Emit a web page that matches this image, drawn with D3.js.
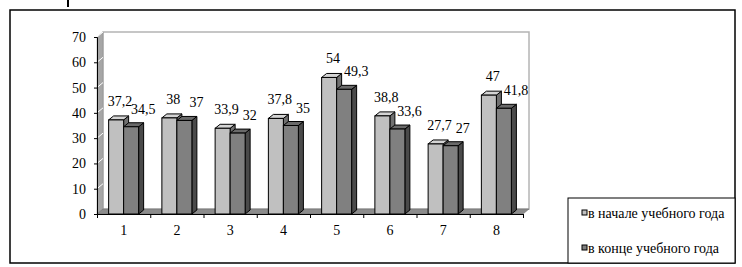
<!DOCTYPE html>
<html>
<head>
<meta charset="utf-8">
<script src="https://cdn.jsdelivr.net/npm/d3@7"></script>
<style>
  body { margin: 0; background: #fff; }
</style>
</head>
<body>
<script>
let categories = ["1", "2", "3", "4", "5", "6", "7", "8"];
let seriesNames = ["в начале учебного года", "в конце учебного года"];
let startValues = [37.2, 38, 33.9, 37.8, 54, 38.8, 27.7, 47];
let endValues = [34.5, 37, 32, 35, 49.3, 33.6, 27, 41.8];
let yTicks = [0, 10, 20, 30, 40, 50, 60, 70];

let w = 742;
let h = 267;
let serif = "'Liberation Serif'";

// colours: front, top, side
let fills = [
  { front: "#c0c0c0", top: "#d4d4d4", side: "#707070", mark: "#c0c0c0" },
  { front: "#808080", top: "#6a6a6a", side: "#4a4a4a", mark: "#808080" },
];

let svg = d3.select("body").append("svg").attr("width", w).attr("height", h);

// outer frame + stray mark at top
svg.append("rect").attr("x", 10).attr("y", 10).attr("width", 725).attr("height", 253)
  .attr("fill", "none").attr("stroke", "#000").attr("stroke-width", 1.5);
svg.append("rect").attr("x", 67).attr("y", 0).attr("width", 2).attr("height", 7).attr("fill", "#000");

let left = 97, right = 523;
let dx = 6, dy = -5;   // wall depth
let bx = 5, by = -4;   // bar depth

let yScale = d3.scaleLinear().domain([0, 70]).range([214, 37]);
let xScale = d3.scaleBand().domain(categories).range([left, right])
  .paddingInner(0.4366).paddingOuter(0.2183);
let sScale = d3.scaleBand().domain([0, 1]).range([0, xScale.bandwidth()]);
let edgeScale = d3.scaleLinear().domain([0, categories.length]).range([left, right]);

let y0 = yScale(0), yTop = yScale(70);

// back wall
svg.append("rect").attr("x", left + dx).attr("y", yTop + dy)
  .attr("width", right - left).attr("height", y0 - yTop)
  .attr("fill", "#fff").attr("stroke", "#b4b4b4").attr("stroke-width", 1.5);

// side wall
svg.append("polygon")
  .attr("points", [[left, y0], [left, yTop], [left + dx, yTop + dy], [left + dx, y0 + dy]].join(" "))
  .attr("fill", "#a6a6a6").attr("stroke", "#888").attr("stroke-width", 0.5);
svg.selectAll(".wallgrid").data(yTicks.slice(1)).enter().append("line")
  .attr("x1", left).attr("y1", (d) => yScale(d))
  .attr("x2", left + dx).attr("y2", (d) => yScale(d) + dy)
  .attr("stroke", "#fff").attr("stroke-width", 1);

// floor
svg.append("polygon")
  .attr("points", [[left, y0], [right, y0], [right + dx, y0 + dy], [left + dx, y0 + dy]].join(" "))
  .attr("fill", "#8c8c8c").attr("stroke", "#666").attr("stroke-width", 0.5);

// bars
let series = [startValues, endValues];
let barW = sScale.bandwidth();
series.forEach((vals, si) => {
  let g = svg.append("g");
  let c = fills[si];
  let bars = g.selectAll("g").data(vals).enter().append("g");
  let bxPos = (d, i) => xScale(categories[i]) + sScale(si);
  bars.append("polygon")
    .attr("points", (d, i) => {
      let x = bxPos(d, i), y = yScale(d);
      return [[x + barW, y], [x + barW + bx, y + by], [x + barW + bx, y0 + by], [x + barW, y0]].join(" ");
    })
    .attr("fill", c.side).attr("stroke", "#000").attr("stroke-width", 1).attr("stroke-linejoin", "round");
  bars.append("polygon")
    .attr("points", (d, i) => {
      let x = bxPos(d, i), y = yScale(d);
      return [[x, y], [x + bx, y + by], [x + barW + bx, y + by], [x + barW, y]].join(" ");
    })
    .attr("fill", c.top).attr("stroke", "#000").attr("stroke-width", 1).attr("stroke-linejoin", "round");
  bars.append("rect")
    .attr("x", (d, i) => bxPos(d, i)).attr("y", (d) => yScale(d))
    .attr("width", barW).attr("height", (d) => y0 - yScale(d))
    .attr("fill", c.front).attr("stroke", "#000").attr("stroke-width", 1);
});

// data labels
let fmt = (v) => String(v).replace(".", ",");
series.forEach((vals, si) => {
  svg.append("g").selectAll("text").data(vals).enter().append("text")
    .attr("x", (d, i) => xScale(categories[i]) + sScale(si) + barW / 2 + (si === 0 ? 4 : 12))
    .attr("y", (d) => yScale(d) - (si === 0 ? 14 : 13))
    .attr("text-anchor", "middle")
    .style("font-family", serif)
    .style("font-size", "14px")
    .text((d) => fmt(d));
});

// axes
let yAxis = d3.axisLeft(yScale).tickValues(yTicks).tickSize(3).tickPadding(8);
svg.append("g").attr("transform", "translate(" + left + ",0)").call(yAxis)
  .call((g) => g.select(".domain").attr("stroke", "#000"))
  .call((g) => g.selectAll("text").style("font-family", serif).style("font-size", "14px").attr("fill", "#000"));

let edgeAxis = d3.axisBottom(edgeScale).ticks(categories.length).tickFormat("").tickSize(4).tickSizeOuter(4);
svg.append("g").attr("transform", "translate(0," + y0 + ")").call(edgeAxis);

let xAxis = d3.axisBottom(xScale).tickSize(0).tickPadding(11);
svg.append("g").attr("transform", "translate(0," + y0 + ")").call(xAxis)
  .call((g) => g.select(".domain").remove())
  .call((g) => g.selectAll("text").style("font-family", serif).style("font-size", "14px").attr("fill", "#000"));

// legend
let legend = svg.append("g");
legend.append("rect").attr("x", 568).attr("y", 198).attr("width", 167).attr("height", 65)
  .attr("fill", "#fff").attr("stroke", "#000").attr("stroke-width", 1);
let items = legend.selectAll("g.item").data(seriesNames).enter().append("g").attr("class", "item")
  .attr("transform", (d, i) => "translate(582," + (213 + i * 35) + ")");
items.append("rect").attr("x", 0).attr("y", -3).attr("width", 5).attr("height", 5)
  .attr("fill", (d, i) => fills[i].mark).attr("stroke", "#000").attr("stroke-width", 1);
items.append("text").attr("x", 6).attr("y", 4.5)
  .style("font-family", serif).style("font-size", "14px").text((d) => d);
</script>
</body>
</html>
